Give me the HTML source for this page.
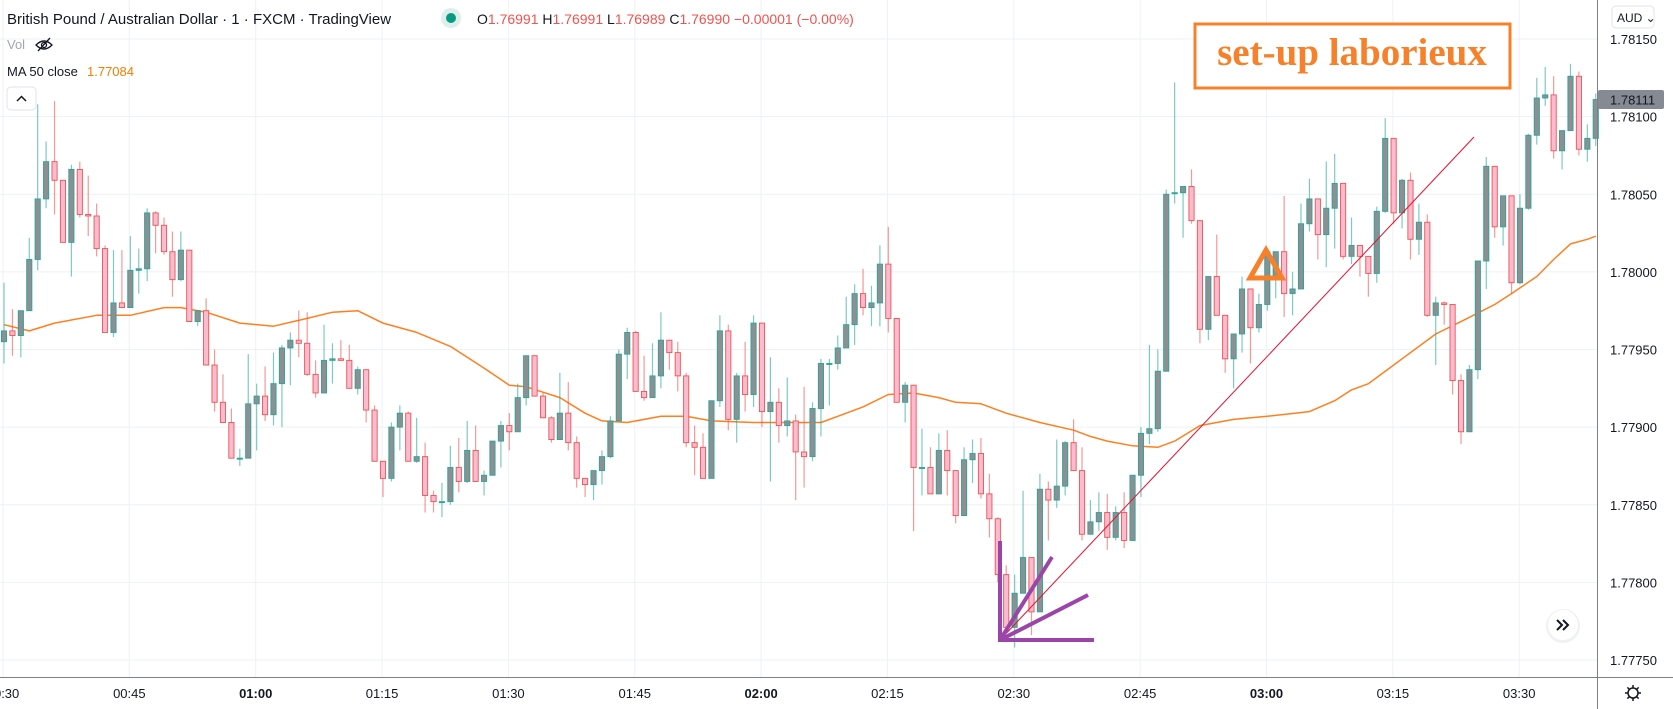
<!DOCTYPE html>
<html><head><meta charset="utf-8"><style>
html,body{margin:0;padding:0;background:#fff;}
svg{display:block;font-family:"Liberation Sans",sans-serif;}
</style></head><body>
<svg id="chart" width="1673" height="709" viewBox="0 0 1673 709" xmlns="http://www.w3.org/2000/svg">
<rect x="0" y="0" width="1673" height="709" fill="#ffffff"/>
<g id="grid"></g>
<g id="ma"></g>
<g id="candles"></g>
<g id="yaxis"></g>
<g id="xaxis"></g>
<g id="drawings">
  <line x1="1000" y1="640" x2="1474" y2="137" stroke="#e8102e" stroke-width="1"/>
  <g stroke="#9b45a8" stroke-width="4" stroke-linecap="butt">
    <line x1="1000" y1="640" x2="1000" y2="541"/>
    <line x1="1000" y1="640" x2="1052" y2="557"/>
    <line x1="1000" y1="640" x2="1088" y2="595"/>
    <line x1="998" y1="640" x2="1094" y2="640"/>
  </g>
  <polygon points="1266,250 1250,278 1282,278" fill="none" stroke="#f7802a" stroke-width="5" stroke-linejoin="miter"/>
  <g>
    <rect x="1195" y="24" width="315" height="64" fill="#ffffff" stroke="#f7802a" stroke-width="3"/>
    <text x="1352" y="65" text-anchor="middle" font-family="Liberation Serif, serif" font-weight="bold" font-size="39" fill="#f7802a">set-up laborieux</text>
  </g>
</g>
<g>
  <text x="7" y="24" font-size="15" fill="#131722">British Pound / Australian Dollar · 1 · FXCM · TradingView</text>
  <circle cx="451" cy="18" r="10" fill="#dcefeb"/>
  <circle cx="451" cy="18" r="5" fill="#089981"/>
  <text x="477" y="24" font-size="14" fill="#ef5350"><tspan fill="#131722">O</tspan>1.76991 <tspan fill="#131722">H</tspan>1.76991 <tspan fill="#131722">L</tspan>1.76989 <tspan fill="#131722">C</tspan>1.76990 −0.00001 (−0.00%)</text>
  <text x="7" y="49" font-size="13" fill="#a3a6af">Vol</text>
  <g stroke="#131722" stroke-width="1.3" fill="none">
    <path d="M36 45 Q44 37 52 45 Q44 53 36 45Z"/><circle cx="44" cy="45" r="2.5"/><line x1="38" y1="51" x2="50" y2="38"/>
  </g>
  <text x="7" y="76" font-size="13" fill="#131722">MA 50 close</text>
  <text x="87" y="76" font-size="13" fill="#f57c00">1.77084</text>
  <rect x="7" y="87" width="29" height="23" rx="4" fill="#fff" stroke="#e0e3eb"/>
  <path d="M17 101 L21.5 96.5 L26 101" stroke="#131722" stroke-width="1.5" fill="none"/>
</g>
<g>
  <circle cx="1563" cy="626" r="17" fill="#e6e7ea" opacity="0.6"/>
  <circle cx="1563" cy="625" r="15" fill="#ffffff"/>
  <path d="M1557 620 L1562 625 L1557 630 M1563 620 L1568 625 L1563 630" stroke="#131722" stroke-width="2" fill="none"/>
</g>
</svg>
<script>
// Prices in units of 0.00001 AUD
const opens = [177955,177962,177959,177975,178008,178047,178071,178059,178019,178066,178037,178036,178015,177961,177980,177977,178001,178002,178038,178030,178013,177995,178014,177968,177975,177940,177916,177903,177880,177880,177915,177920,177908,177928,177951,177956,177954,177934,177922,177943,177944,177943,177925,177937,177911,177878,177867,177900,177909,177878,177881,177856,177852,177852,177874,177865,177885,177865,177869,177891,177901,177897,177919,177946,177920,177906,177892,177909,177890,177867,177863,177872,177881,177904,177947,177961,177923,177919,177933,177956,177948,177933,177890,177887,177867,177917,177962,177905,177933,177921,177967,177910,177916,177901,177904,177884,177881,177912,177941,177941,177951,177966,177986,177977,177980,178005,177970,177916,177927,177874,177874,177857,177885,177872,177843,177879,177883,177857,177841,177805,177771,177793,177816,177781,177860,177853,177862,177890,177872,177831,177839,177845,177829,177845,177827,177869,177896,177899,177936,178051,178051,178055,178033,177963,177997,177972,177944,177960,177989,177964,177979,177997,178013,177986,177989,178031,178047,178024,178041,178057,178010,178017,178010,177999,178039,178086,178038,178059,178021,178032,177972,177980,177979,177930,177897,177937,178007,178068,178029,178049,177993,178041,178088,178112,178114,178078,178091,178126,178079,178086];
const closes = [177962,177959,177975,178008,178047,178071,178059,178019,178066,178037,178036,178015,177961,177980,177977,178001,178002,178038,178030,178013,177995,178014,177968,177975,177940,177916,177903,177880,177880,177915,177920,177908,177928,177951,177956,177954,177934,177922,177943,177944,177943,177925,177937,177911,177878,177867,177900,177909,177878,177881,177856,177852,177852,177874,177865,177885,177865,177869,177891,177901,177897,177919,177946,177920,177906,177892,177909,177890,177867,177863,177872,177881,177904,177947,177961,177923,177919,177933,177956,177948,177933,177890,177887,177867,177917,177962,177905,177933,177921,177967,177910,177916,177901,177904,177884,177881,177912,177941,177941,177951,177966,177986,177977,177980,178005,177970,177916,177927,177874,177874,177857,177885,177872,177843,177879,177883,177857,177841,177805,177771,177793,177816,177781,177860,177853,177862,177890,177872,177831,177839,177845,177829,177845,177827,177869,177896,177899,177936,178050,178051,178055,178033,177963,177997,177972,177944,177960,177989,177964,177979,178013,178013,177986,177989,178031,178047,178024,178041,178057,178010,178017,178010,177999,178039,178086,178038,178059,178021,178032,177972,177980,177979,177930,177897,177937,178007,178068,178029,178049,177993,178041,178088,178112,178114,178078,178091,178126,178079,178086,178111];
const highs = [177993,177976,177975,178022,178108,178084,178110,178059,178069,178071,178062,178044,178017,178014,178014,178023,178015,178041,178039,178035,178026,178026,178014,177975,177983,177950,177934,177912,177886,177947,177928,177939,177948,177953,177961,177975,177974,177943,177966,177954,177956,177953,177939,177937,177914,177878,177903,177914,177910,177906,177890,177859,177864,177888,177893,177904,177901,177872,177891,177904,177909,177928,177946,177946,177922,177907,177935,177929,177894,177867,177872,177885,177907,177950,177964,177962,177946,177954,177974,177956,177955,177935,177901,177896,177917,177972,177966,177935,177955,177972,177967,177945,177925,177932,177908,177926,177916,177944,177944,177959,177984,177992,178002,177991,178017,178029,177970,177929,177927,177899,177887,177896,177898,177872,177887,177892,177893,177870,177842,177811,177805,177859,177816,177870,177865,177892,177891,177905,177887,177853,177858,177857,177849,177858,177869,177900,177953,177950,178053,178122,178055,178066,178033,177997,178024,177972,177960,177997,177989,177986,178013,178013,178049,178000,178044,178060,178047,178071,178076,178057,178035,178017,178010,178042,178099,178086,178060,178064,178044,178037,177984,177981,177979,177934,177940,178007,178074,178068,178049,178049,178050,178089,178125,178132,178126,178091,178134,178129,178095,178115];
const lows = [177941,177946,177945,177975,178001,178041,178037,178019,177997,178035,178023,178010,177961,177958,177977,177977,177986,177994,178012,178011,177984,177994,177968,177965,177940,177910,177903,177880,177875,177880,177885,177904,177901,177900,177927,177945,177933,177919,177922,177928,177943,177925,177921,177903,177878,177855,177865,177885,177878,177877,177845,177845,177842,177850,177858,177864,177865,177856,177869,177874,177885,177897,177914,177920,177906,177890,177892,177885,177861,177855,177853,177863,177880,177904,177931,177923,177917,177919,177925,177937,177923,177887,177869,177867,177867,177913,177898,177890,177910,177913,177900,177865,177890,177894,177853,177861,177878,177894,177914,177937,177951,177953,177972,177965,177965,177961,177916,177903,177833,177856,177857,177857,177856,177838,177843,177864,177854,177829,177800,177771,177758,177793,177766,177781,177827,177848,177856,177872,177827,177831,177833,177821,177827,177822,177827,177855,177889,177897,177936,178044,178022,178031,177954,177956,177972,177935,177925,177948,177941,177961,177975,177983,177971,177972,177989,178026,178008,178003,178015,178008,178005,177997,177984,177993,178038,178031,178028,178008,178011,177971,177940,177966,177921,177889,177897,177931,177989,178022,178017,177986,177992,178040,178082,178107,178073,178066,178091,178075,178071,178081];
// MA(50) read at candle indices
const maIdx = [0,3,6,11,15,19,21,24,28,32,36,39,42,45,49,53,57,60,62,66,69,71,74,78,81,84,89,93,97,99,102,105,108,111,113,116,119,123,127,129,131,134,137,139,142,146,150,155,158,160,162,166,170,173,177,179,182,184,186,188,189];
const maVal = [177966,177962,177967,177972,177972,177977,177977,177974,177967,177965,177970,177974,177975,177967,177961,177952,177938,177927,177926,177919,177909,177904,177903,177907,177907,177904,177903,177903,177903,177907,177913,177921,177922,177919,177916,177915,177909,177903,177898,177894,177891,177888,177887,177891,177901,177905,177907,177910,177917,177924,177928,177944,177960,177968,177979,177986,177997,178008,178018,178021,178023];
const priceTicks = [178150,178100,178050,178000,177950,177900,177850,177800,177750];
const timeLabels = ["00:30","00:45","01:00","01:15","01:30","01:45","02:00","02:15","02:30","02:45","03:00","03:15","03:30"];
const boldLabels = ["01:00","02:00","03:00"];
const lastPrice = 178111;

const NS = "http://www.w3.org/2000/svg";
const PLOT_R = 1597, AXIS_Y = 677;
function yOf(p){ return 39 + (178150 - p) * 1.5525; }
function xOf(i){ return 4 + i * 8.422; }
function xTime(k){ return 3 + k * 126.35; }
function mk(tag, attrs, parent){ const e=document.createElementNS(NS,tag); for(const k in attrs) e.setAttribute(k,attrs[k]); parent.appendChild(e); return e; }

const grid = document.getElementById('grid');
priceTicks.forEach(p=>{
  const l = mk('line',{x1:0,x2:PLOT_R,y1:yOf(p),y2:yOf(p),stroke:'#eef1f5','stroke-width':1},grid);
  
  
});
timeLabels.forEach((t,k)=>{
  const l = mk('line',{x1:xTime(k),x2:xTime(k),y1:0,y2:AXIS_Y,stroke:'#eef1f5','stroke-width':1},grid);
  
  
});

// MA line
const maG = document.getElementById('ma');
let d = '';
maIdx.forEach((i,k)=>{ d += (k?'L':'M') + xOf(i).toFixed(1) + ' ' + yOf(maVal[k]).toFixed(1) + ' '; });
const maPath = mk('path',{d:d,fill:'none',stroke:'#ff7f1e','stroke-width':1.5,'stroke-linejoin':'round'},maG);



// Candles
const cg = document.getElementById('candles');
opens.forEach((o,i)=>{
  const c = closes[i], h = highs[i], lo = lows[i];
  const up = c >= o;
  const x = xOf(i);
  const g = mk('g',{},cg);
  
  
  const w = mk('line',{x1:x,x2:x,y1:yOf(h),y2:yOf(lo),stroke:up?'#26a69a':'#ef5350','stroke-opacity':0.6,'stroke-width':1.2},g);
  
  
  const top = yOf(Math.max(o,c)), bot = yOf(Math.min(o,c));
  const b = mk('rect',{x:x-2.6,y:top,width:5.2,height:Math.max(1,bot-top),fill:up?'#8d8f92':'#f8bbd0',stroke:up?'#26a69a':'#ef5350','stroke-width':0.9},g);
  
  
});

// Price axis
const ya = document.getElementById('yaxis');
const al = mk('line',{x1:PLOT_R+0.5,x2:PLOT_R+0.5,y1:0,y2:709,stroke:'#7e8088','stroke-width':1},ya);


priceTicks.forEach(p=>{
  const t = mk('text',{x:1610,y:yOf(p)+5,'font-size':13,fill:'#131722'},ya);
  t.textContent = (p/100000).toFixed(5);
  
  
});
const tag = mk('rect',{x:1598,y:yOf(lastPrice)-9.5,width:66,height:19,rx:2,fill:'#868a93'},ya);


const tagT = mk('text',{x:1610,y:yOf(lastPrice)+5,'font-size':13,fill:'#131722'},ya);
tagT.textContent = (lastPrice/100000).toFixed(5);


const aud = mk('rect',{x:1612,y:6,width:42,height:22,rx:4,fill:'#fff',stroke:'#e0e3eb'},ya);


const audT = mk('text',{x:1617,y:22,'font-size':12,fill:'#131722'},ya);
audT.textContent = 'AUD ⌄';



// Time axis
const xa = document.getElementById('xaxis');
const bl = mk('line',{x1:0,x2:1673,y1:AXIS_Y+0.5,y2:AXIS_Y+0.5,stroke:'#7e8088','stroke-width':1},xa);


timeLabels.forEach((t,k)=>{
  const e = mk('text',{x:xTime(k),y:698,'font-size':13,fill:'#131722','text-anchor':'middle','font-weight':boldLabels.includes(t)?'bold':'normal'},xa);
  e.textContent = t;
  
  
});
const gear = mk('g',{stroke:'#131722','stroke-width':1.5,fill:'none'},xa);


mk('circle',{cx:1633,cy:693,r:5},gear);
for(let a=0;a<8;a++){ const r=a*Math.PI/4; mk('line',{x1:1633+Math.cos(r)*5,y1:693+Math.sin(r)*5,x2:1633+Math.cos(r)*8,y2:693+Math.sin(r)*8},gear); }
</script>
</body></html>
